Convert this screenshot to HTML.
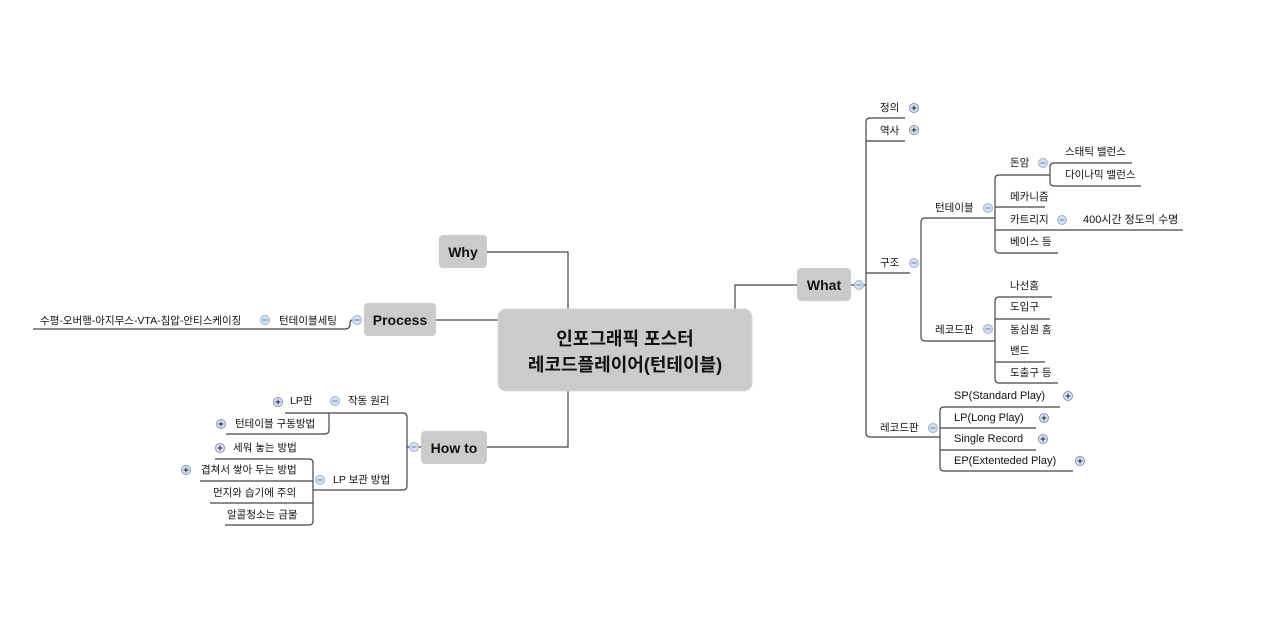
<!DOCTYPE html>
<html><head><meta charset="utf-8"><style>
html,body{margin:0;padding:0;background:#fff;width:1280px;height:640px;overflow:hidden}
svg text{font-family:"Liberation Sans","Noto Sans CJK KR",sans-serif;fill:#111}
.b{font-weight:bold}
</style></head><body>
<svg width="1280" height="640" viewBox="0 0 1280 640" xmlns="http://www.w3.org/2000/svg">
<defs>
<g id="pl"><circle r="4.5" fill="#dde6f5" stroke="#7f93b8" stroke-width="1"/><path d="M-2.5 0H2.5M0 -2.5V2.5" stroke="#223" stroke-width="1"/></g>
<g id="mi"><circle r="4.5" fill="#d6e0f3" stroke="#9fb1d3" stroke-width="1"/><path d="M-2.5 0H2.5" stroke="#6a7fa8" stroke-width="1"/></g>
</defs>
<g fill="none" stroke="#444" stroke-width="1.2">
<path d="M487 252H568V309"/>
<path d="M436 320H498"/>
<path d="M487 447H568V391"/>
<path d="M735 309V285H797"/>
<path d="M905 118H870Q866 118 866 122V433Q866 437 870 437H905"/>
<path d="M866 141H905M851 285H866M866 273H910"/>
<path d="M921 273V337Q921 341 925 341H995M921 273V222Q921 218 925 218H995"/>
<path d="M995 218V179Q995 175 999 175H1050M995 218V249Q995 253 999 253H1058M995 207H1045M995 230H1183"/>
<path d="M1050 175V167Q1050 163 1054 163H1132M1050 175V182Q1050 186 1054 186H1141"/>
<path d="M995 341V301Q995 297 999 297H1052M995 341V379Q995 383 999 383H1058M995 319H1050M995 362H1045"/>
<path d="M905 437H940M940 437V411Q940 407 944 407H1060M940 437V467Q940 471 944 471H1073M940 428H1036M940 450H1036"/>
<path d="M352 320Q350 320 350 324Q350 329 345 329H33"/>
<path d="M421 447H407M407 447V417Q407 413 403 413H285M407 447V486Q407 490 403 490H313"/>
<path d="M329 413V430Q329 434 325 434H226"/>
<path d="M313 490V463Q313 459 309 459H215M313 490V521Q313 525 309 525H225M313 481H200M313 503H210"/>
</g>
<rect x="498" y="309" width="254" height="82" rx="8" fill="#cbcbcb" stroke="#d8d8d8"/>
<text x="625" y="345" font-size="18" text-anchor="middle" class="b">인포그래픽 포스터</text>
<text x="625" y="371" font-size="18" text-anchor="middle" class="b">레코드플레이어(턴테이블)</text>
<rect x="439" y="235" width="48" height="33" rx="4" fill="#cbcbcb"/>
<text x="463" y="257" font-size="14" text-anchor="middle" class="b">Why</text>
<rect x="364" y="303" width="72" height="33" rx="4" fill="#cbcbcb"/>
<text x="400" y="325" font-size="14" text-anchor="middle" class="b">Process</text>
<rect x="421" y="431" width="66" height="33" rx="4" fill="#cbcbcb"/>
<text x="454" y="453" font-size="14" text-anchor="middle" class="b">How to</text>
<rect x="797" y="268" width="54" height="33" rx="4" fill="#cbcbcb"/>
<text x="824" y="290" font-size="14" text-anchor="middle" class="b">What</text>
<g font-size="10.5" style="fill:#000">
<text x="880" y="111">정의</text><text x="880" y="134">역사</text>
<text x="880" y="266">구조</text>
<text x="935" y="211">턴테이블</text>
<text x="1010" y="166">돈암</text>
<text x="1065" y="155">스태틱 밸런스</text>
<text x="1065" y="178">다이나믹 밸런스</text>
<text x="1010" y="200">메카니즘</text>
<text x="1010" y="223">카트리지</text>
<text x="1083" y="223" font-size="11">400시간 정도의 수명</text>
<text x="1010" y="245">베이스 등</text>
<text x="935" y="333">레코드판</text>
<text x="1010" y="289">나선홈</text>
<text x="1010" y="310">도입구</text>
<text x="1010" y="333">동심원 홈</text>
<text x="1010" y="354">밴드</text>
<text x="1010" y="376">도출구 등</text>
<text x="880" y="431">레코드판</text>
<text x="954" y="399" font-size="11">SP(Standard Play)</text>
<text x="954" y="421" font-size="11">LP(Long Play)</text>
<text x="954" y="442" font-size="11">Single Record</text>
<text x="954" y="464" font-size="11">EP(Extenteded Play)</text>
<text x="40" y="324">수평-오버행-아지무스-VTA-침압-안티스케이징</text>
<text x="279" y="324">턴테이블세팅</text>
<text x="348" y="404">작동 원리</text>
<text x="290" y="404">LP판</text>
<text x="235" y="427">턴테이블 구동방법</text>
<text x="333" y="483">LP 보관 방법</text>
<text x="233" y="451">세워 놓는 방법</text>
<text x="201" y="473">겹쳐서 쌓아 두는 방법</text>
<text x="213" y="496">먼지와 습기에 주의</text>
<text x="227" y="518">알콜청소는 금물</text>
</g>
<use href="#pl" x="914" y="108"/><use href="#pl" x="914" y="130"/>
<use href="#mi" x="859" y="285"/><use href="#mi" x="914" y="263"/>
<use href="#mi" x="988" y="208"/><use href="#mi" x="988" y="329"/>
<use href="#mi" x="1043" y="163"/><use href="#mi" x="1062" y="220"/>
<use href="#mi" x="933" y="428"/>
<use href="#pl" x="1068" y="396"/><use href="#pl" x="1044" y="418"/>
<use href="#pl" x="1043" y="439"/><use href="#pl" x="1080" y="461"/>
<use href="#mi" x="357" y="320"/><use href="#mi" x="265" y="320"/>
<use href="#mi" x="414" y="447"/><use href="#mi" x="335" y="401"/>
<use href="#pl" x="278" y="402"/><use href="#pl" x="221" y="424"/>
<use href="#mi" x="320" y="480"/><use href="#pl" x="220" y="448"/>
<use href="#pl" x="186" y="470"/>
</svg>
</body></html>
